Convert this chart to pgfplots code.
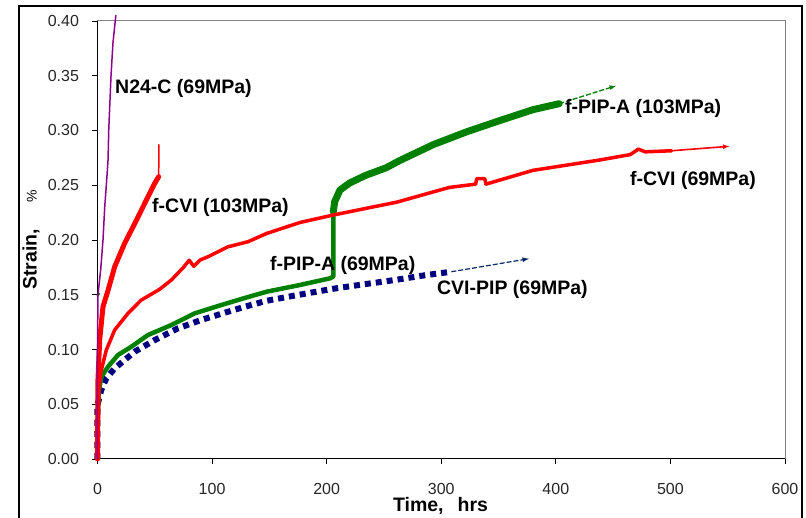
\documentclass[border=0pt]{standalone}
\usepackage{pgfplots}
\pgfplotsset{compat=1.18}
\usepackage{fontspec}
\setmainfont{Liberation Sans}
\usetikzlibrary{arrows.meta}
\definecolor{cred}{RGB}{255,0,0}
\definecolor{cgreen}{RGB}{0,128,0}
\definecolor{cnavy}{RGB}{0,0,128}
\definecolor{carrow}{RGB}{10,40,100}
\definecolor{cpurple}{RGB}{140,0,140}
\newcommand{\lbl}{\fontsize{19.5bp}{21bp}\selectfont\bfseries}
\begin{document}
\begin{tikzpicture}[x=1bp,y=1bp]
\useasboundingbox (-97.5,-59) rectangle (708.5,459);
\draw[line width=1.5bp] (-78.5,-70) -- (-78.5,453) -- (704.5,453) -- (704.5,-70);
\begin{axis}[
  at={(0,0)}, anchor=south west,
  scale only axis, width=687.5bp, height=438bp,
  xmin=0, xmax=600, ymin=0, ymax=0.4,
  axis x line*=bottom, axis y line*=left,
  axis line style={line width=1bp, black},
  xtick={0,100,...,600},
  ytick={0,0.05,...,0.41},
  tick align=outside, major tick length=5bp,
  tick style={black, line width=0.8bp},
  /pgf/number format/assume math mode=true,
  ticklabel style={font=\fontsize{16bp}{18bp}\selectfont, text=black!85},
  xticklabel style={yshift=-16bp},
  yticklabel style={xshift=-10bp, /pgf/number format/fixed, /pgf/number format/fixed zerofill, /pgf/number format/precision=2},
  xlabel={\lbl Time,\hspace{14bp}hrs},
  xlabel style={at={(axis description cs:0.4989,-0.107)}, anchor=center},
  ylabel={\lbl Strain,\hspace{26bp}{\mdseries\fontsize{14bp}{16bp}\selectfont\%}},
  ylabel style={at={(axis description cs:-0.0967,0.5)}, anchor=center},
  every axis plot/.append style={line join=round, line cap=round},
  clip=false,
]
\draw[gray, line width=1bp] (rel axis cs:0,1) -- (rel axis cs:1,1) -- (rel axis cs:1,0);

% CVI-PIP (69MPa)
\addplot[cnavy, line width=6bp, line cap=butt, dash pattern=on 6bp off 5bp] coordinates {
(0,0) (0,0.05) (0.4,0.051) (3.3,0.063) (7.7,0.0737) (15,0.0828) (23.7,0.0904) (32.5,0.098)
(49.9,0.1086) (70.2,0.1193) (90.6,0.127) (113.9,0.1345) (128.4,0.139) (147.7,0.1445)
(170.7,0.149) (205.8,0.1555) (228.9,0.159) (261,0.1637) (287,0.168) (308.8,0.171)};
\addplot[carrow, line width=1.2bp, line cap=butt, dash pattern=on 5bp off 2bp, -{Latex[length=7bp,width=5bp]}] coordinates {
(308.8,0.171) (377,0.183)};

% f-PIP-A (69MPa) lower part
\addplot[cgreen, line width=4.5bp] coordinates {
(0,0) (0.3,0.04) (1.2,0.062) (3.3,0.0751) (9.2,0.0843) (17.9,0.095) (29.5,0.1025) (44,0.1132)
(64.4,0.1223) (84.8,0.133) (108,0.1406) (128.4,0.147) (147.7,0.1528) (176.7,0.1589)
(202.9,0.165) (205.8,0.1665) (205.8,0.232)};
% f-PIP-A (103MPa) upper part
\addplot[cgreen, line width=7bp] coordinates {
(205.8,0.226) (207,0.235) (211.6,0.2456) (220,0.252) (234,0.259) (252,0.266) (263.7,0.2725)
(292.8,0.287) (321.9,0.2987) (350.9,0.309) (380,0.319) (403,0.3245)};
\addplot[cgreen, line width=1.3bp, line cap=butt, dash pattern=on 5bp off 2bp, -{Latex[length=7bp,width=5bp]}] coordinates {
(403,0.3245) (453,0.341)};
\addplot[cgreen, line width=2bp] coordinates {(0,0.149) (1.5,0.151)};

% f-CVI (69MPa)
\addplot[cred, line width=3.5bp] coordinates {
(0,0) (0.3,0.04) (1.2,0.065) (3.3,0.081) (7.7,0.0995) (15,0.1178) (26.6,0.133) (38,0.145)
(54.3,0.155) (64.4,0.1634) (75,0.175) (80,0.1815) (84,0.176) (89.5,0.1817) (96.4,0.1847)
(113.9,0.1938) (131.3,0.1984) (147.7,0.206) (176.7,0.216) (205.8,0.2228) (234.9,0.229)
(261,0.2345) (307,0.248) (330,0.251) (331,0.256) (338,0.256) (339,0.251) (380,0.2636)
(438,0.273) (465,0.278) (472,0.283) (478,0.2805) (501,0.2815)};
\addplot[cred, line width=1.6bp, -{Latex[length=7bp,width=5bp]}] coordinates {
(501,0.2815) (552,0.2856)};

% f-CVI (103MPa)
\addplot[cred, line width=5bp] coordinates {
(0,0) (0.3,0.05) (0.4,0.072) (1.9,0.1086) (4.8,0.139) (9.2,0.154) (15,0.1756) (23.7,0.197)
(32.5,0.215) (41.2,0.2334) (49.9,0.2517) (53.4,0.2578)};
\addplot[cred, line width=1.5bp] coordinates {(53.4,0.2578) (53.6,0.287)};

% N24-C (69MPa)
\addplot[cpurple, line width=1.5bp] coordinates {
(0,0) (0,0.10) (0.4,0.15) (2.8,0.173) (4.8,0.20) (6.3,0.23) (7.7,0.25) (9.2,0.273)
(9.8,0.30) (11.8,0.35) (13.5,0.38) (15.5,0.40) (16,0.405)};

\node[anchor=west, inner sep=0] at (axis cs:15.3,0.3388) {\lbl N24-C (69MPa)};
\node[anchor=west, inner sep=0] at (axis cs:47.6,0.230) {\lbl f-CVI (103MPa)};
\node[anchor=west, inner sep=0] at (axis cs:150.5,0.177) {\lbl f-PIP-A (69MPa)};
\node[anchor=west, inner sep=0] at (axis cs:296.2,0.155) {\lbl CVI-PIP (69MPa)};
\node[anchor=west, inner sep=0] at (axis cs:408,0.3205) {\lbl f-PIP-A (103MPa)};
\node[anchor=west, inner sep=0] at (axis cs:464.7,0.2547) {\lbl f-CVI (69MPa)};
\end{axis}
\end{tikzpicture}
\end{document}
